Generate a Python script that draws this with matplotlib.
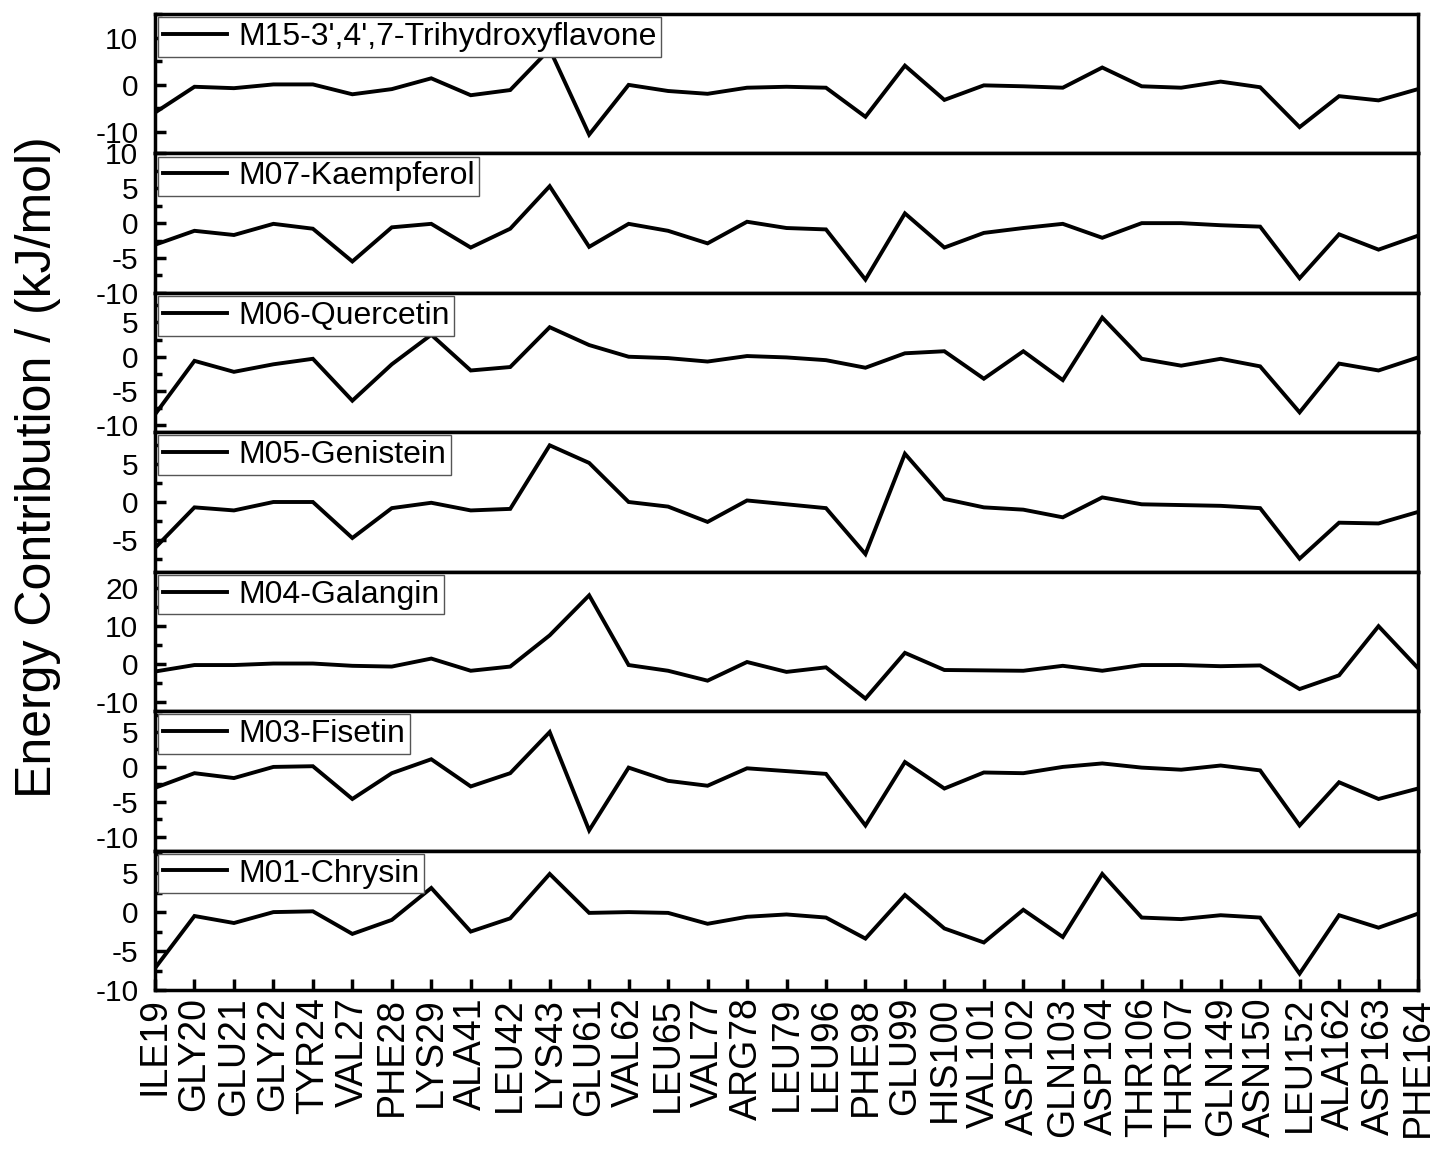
import matplotlib
matplotlib.use("Agg")
import matplotlib.pyplot as plt
from matplotlib.ticker import MultipleLocator

plt.rcParams['font.family'] = ['Liberation Sans', 'DejaVu Sans']
plt.rcParams['axes.unicode_minus'] = False

residues = ["ILE19", "GLY20", "GLU21", "GLY22", "TYR24", "VAL27", "PHE28", "LYS29",
            "ALA41", "LEU42", "LYS43", "GLU61", "VAL62", "LEU65", "VAL77", "ARG78",
            "LEU79", "LEU96", "PHE98", "GLU99", "HIS100", "VAL101", "ASP102", "GLN103",
            "ASP104", "THR106", "THR107", "GLN149", "ASN150", "LEU152", "ALA162",
            "ASP163", "PHE164"]

m15 = [-5.9, -0.4, -0.7, 0.1, 0.1, -2.0, -0.9, 1.4, -2.2, -1.1, 7.6, -10.6, 0.0, -1.3,
       -1.9, -0.6, -0.4, -0.6, -6.8, 4.1, -3.2, -0.1, -0.3, -0.6, 3.7, -0.3, -0.6, 0.7,
       -0.5, -9.0, -2.4, -3.3, -0.9]
m07 = [-3.1, -1.1, -1.7, -0.1, -0.8, -5.5, -0.6, -0.1, -3.5, -0.8, 5.3, -3.4, -0.1, -1.1,
       -2.9, 0.2, -0.7, -0.9, -8.1, 1.4, -3.5, -1.4, -0.7, -0.1, -2.1, 0.0, 0.0, -0.3,
       -0.5, -7.9, -1.6, -3.8, -1.8]
m06 = [-8.4, -0.6, -2.2, -1.1, -0.3, -6.4, -1.1, 3.2, -2.0, -1.5, 4.3, 1.7, 0.0, -0.2,
       -0.7, 0.1, -0.1, -0.5, -1.6, 0.5, 0.8, -3.2, 0.8, -3.4, 5.7, -0.3, -1.3, -0.3,
       -1.4, -8.1, -1.0, -2.0, -0.1]
m05 = [-6.0, -0.7, -1.1, 0.0, 0.0, -4.7, -0.8, -0.1, -1.1, -0.9, 7.4, 5.1, 0.0, -0.6,
       -2.6, 0.2, -0.3, -0.8, -6.8, 6.3, 0.4, -0.7, -1.0, -2.0, 0.6, -0.3, -0.4, -0.5,
       -0.8, -7.4, -2.7, -2.8, -1.3]
m04 = [-1.9, -0.2, -0.2, 0.2, 0.2, -0.4, -0.6, 1.5, -1.7, -0.6, 7.6, 18.1, -0.2, -1.7,
       -4.3, 0.6, -2.0, -0.8, -9.0, 3.0, -1.5, -1.6, -1.7, -0.4, -1.7, -0.2, -0.2, -0.5,
       -0.3, -6.5, -2.9, 10.0, -1.0]
m03 = [-3.0, -0.9, -1.6, 0.0, 0.1, -4.6, -0.9, 1.1, -2.8, -0.9, 5.0, -9.1, -0.1, -2.0,
       -2.7, -0.2, -0.6, -1.0, -8.4, 0.7, -3.1, -0.8, -0.9, 0.0, 0.5, -0.1, -0.4, 0.2,
       -0.5, -8.4, -2.2, -4.6, -3.1]
m01 = [-7.2, -0.5, -1.4, 0.0, 0.1, -2.8, -1.0, 3.1, -2.5, -0.8, 4.9, -0.1, 0.0, -0.1,
       -1.5, -0.6, -0.3, -0.7, -3.4, 2.2, -2.1, -3.9, 0.3, -3.2, 4.9, -0.7, -0.9, -0.4,
       -0.7, -7.9, -0.4, -2.0, -0.2]

series_names = ["M15-3',4',7-Trihydroxyflavone", "M07-Kaempferol", "M06-Quercetin",
                "M05-Genistein", "M04-Galangin", "M03-Fisetin", "M01-Chrysin"]
series_values = [m15, m07, m06, m05, m04, m03, m01]
y_limits = [(-14.6, 15.1), (-10, 10), (-11, 9.3), (-9.1, 9.1), (-12.3, 24.3), (-12, 8), (-10, 7.9)]
y_major = [10, 5, 5, 5, 10, 5, 5]

fig = plt.figure(figsize=(14.52, 11.49), dpi=100)
left, right = 155 / 1452, 1418 / 1452
top, bottom = 1 - 14 / 1149, 1 - 990 / 1149
n = len(series_names)
h = (top - bottom) / n
x = list(range(len(residues)))

axes = []
for i, (name, vals) in enumerate(zip(series_names, series_values)):
    ax = fig.add_axes([left, top - (i + 1) * h, right - left, h])
    axes.append(ax)
    ax.plot(x, vals, color='black', lw=2.8, label=name, solid_joinstyle='miter', zorder=2)
    ax.set_xlim(0, len(residues) - 1)
    ax.set_ylim(*y_limits[i])
    ax.yaxis.set_major_locator(MultipleLocator(y_major[i]))
    ax.yaxis.set_minor_locator(MultipleLocator(y_major[i] / 2))
    for sp in ax.spines.values():
        sp.set_linewidth(2.5)
    ax.tick_params(axis='y', which='major', direction='in', length=8, width=2.5,
                   labelsize=21.5, pad=12)
    ax.tick_params(axis='y', which='minor', direction='in', length=5, width=2.5)
    ax.set_xticks(x)
    if i < n - 1:
        ax.tick_params(axis='x', bottom=False, labelbottom=False)
    else:
        ax.set_xticklabels(residues, rotation=90)
        ax.tick_params(axis='x', direction='in', length=8, width=2.5, labelsize=27, pad=5)
    leg = ax.legend(loc='upper left', borderaxespad=0.1, borderpad=0.15,
                    handlelength=2.0, handletextpad=0.35, fontsize=23,
                    fancybox=False, framealpha=1, edgecolor='#555555')
    leg.get_frame().set_linewidth(1.0)
    leg.set_zorder(5)

fig.text(38 / 1452, 1 - 467 / 1149, "Energy Contribution / (kJ/mol)", rotation=90,
         ha='center', va='center', fontsize=36)

fig.savefig("out.png", dpi=100)
